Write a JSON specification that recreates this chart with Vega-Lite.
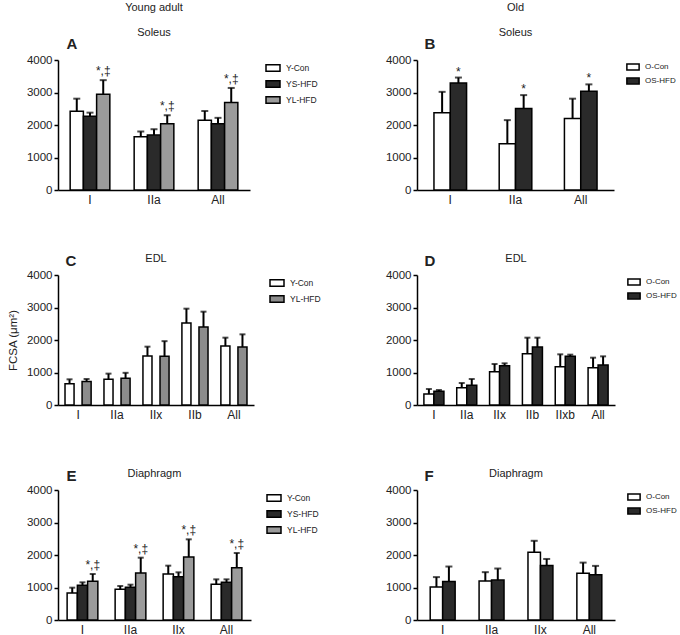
{
  "$schema": "https://vega.github.io/schema/vega-lite/v6.json",
  "padding": {"left": 7, "top": 2, "right": 2, "bottom": 2},
  "background": "white",
  "datasets": {
    "A": [
      {"type": "I", "group": "Y-Con", "mean": 2420, "upper": 2810, "ann": ""},
      {"type": "I", "group": "YS-HFD", "mean": 2270, "upper": 2380, "ann": ""},
      {"type": "I", "group": "YL-HFD", "mean": 2950, "upper": 3380, "ann": "*,‡"},
      {"type": "IIa", "group": "Y-Con", "mean": 1640, "upper": 1800, "ann": ""},
      {"type": "IIa", "group": "YS-HFD", "mean": 1690, "upper": 1870, "ann": ""},
      {"type": "IIa", "group": "YL-HFD", "mean": 2040, "upper": 2300, "ann": "*,‡"},
      {"type": "All", "group": "Y-Con", "mean": 2150, "upper": 2430, "ann": ""},
      {"type": "All", "group": "YS-HFD", "mean": 2040, "upper": 2220, "ann": ""},
      {"type": "All", "group": "YL-HFD", "mean": 2690, "upper": 3140, "ann": "*,‡"}
    ],
    "B": [
      {"type": "I", "group": "O-Con", "mean": 2380, "upper": 3020, "ann": ""},
      {"type": "I", "group": "OS-HFD", "mean": 3290, "upper": 3460, "ann": "*"},
      {"type": "IIa", "group": "O-Con", "mean": 1420, "upper": 2150, "ann": ""},
      {"type": "IIa", "group": "OS-HFD", "mean": 2510, "upper": 2920, "ann": "*"},
      {"type": "All", "group": "O-Con", "mean": 2200, "upper": 2810, "ann": ""},
      {"type": "All", "group": "OS-HFD", "mean": 3040, "upper": 3250, "ann": "*"}
    ],
    "C": [
      {"type": "I", "group": "Y-Con", "mean": 655, "upper": 790, "ann": ""},
      {"type": "I", "group": "YL-HFD", "mean": 722, "upper": 800, "ann": ""},
      {"type": "IIa", "group": "Y-Con", "mean": 790, "upper": 965, "ann": ""},
      {"type": "IIa", "group": "YL-HFD", "mean": 825, "upper": 990, "ann": ""},
      {"type": "IIx", "group": "Y-Con", "mean": 1510, "upper": 1795, "ann": ""},
      {"type": "IIx", "group": "YL-HFD", "mean": 1500, "upper": 1965, "ann": ""},
      {"type": "IIb", "group": "Y-Con", "mean": 2523, "upper": 2964, "ann": ""},
      {"type": "IIb", "group": "YL-HFD", "mean": 2400, "upper": 2872, "ann": ""},
      {"type": "All", "group": "Y-Con", "mean": 1815, "upper": 2072, "ann": ""},
      {"type": "All", "group": "YL-HFD", "mean": 1785, "upper": 2174, "ann": ""}
    ],
    "D": [
      {"type": "I", "group": "O-Con", "mean": 338, "upper": 492, "ann": ""},
      {"type": "I", "group": "OS-HFD", "mean": 420, "upper": 461, "ann": ""},
      {"type": "IIa", "group": "O-Con", "mean": 533, "upper": 677, "ann": ""},
      {"type": "IIa", "group": "OS-HFD", "mean": 605, "upper": 800, "ann": ""},
      {"type": "IIx", "group": "O-Con", "mean": 1026, "upper": 1262, "ann": ""},
      {"type": "IIx", "group": "OS-HFD", "mean": 1210, "upper": 1282, "ann": ""},
      {"type": "IIb", "group": "O-Con", "mean": 1579, "upper": 2072, "ann": ""},
      {"type": "IIb", "group": "OS-HFD", "mean": 1785, "upper": 2072, "ann": ""},
      {"type": "IIxb", "group": "O-Con", "mean": 1180, "upper": 1559, "ann": ""},
      {"type": "IIxb", "group": "OS-HFD", "mean": 1497, "upper": 1549, "ann": ""},
      {"type": "All", "group": "O-Con", "mean": 1149, "upper": 1456, "ann": ""},
      {"type": "All", "group": "OS-HFD", "mean": 1231, "upper": 1497, "ann": ""}
    ],
    "E": [
      {"type": "I", "group": "Y-Con", "mean": 831, "upper": 995, "ann": ""},
      {"type": "I", "group": "YS-HFD", "mean": 1067, "upper": 1159, "ann": ""},
      {"type": "I", "group": "YL-HFD", "mean": 1190, "upper": 1415, "ann": "*,‡"},
      {"type": "IIa", "group": "Y-Con", "mean": 944, "upper": 1046, "ann": ""},
      {"type": "IIa", "group": "YS-HFD", "mean": 1005, "upper": 1087, "ann": ""},
      {"type": "IIa", "group": "YL-HFD", "mean": 1446, "upper": 1918, "ann": "*,‡"},
      {"type": "IIx", "group": "Y-Con", "mean": 1415, "upper": 1672, "ann": ""},
      {"type": "IIx", "group": "YS-HFD", "mean": 1333, "upper": 1467, "ann": ""},
      {"type": "IIx", "group": "YL-HFD", "mean": 1938, "upper": 2482, "ann": "*,‡"},
      {"type": "All", "group": "Y-Con", "mean": 1097, "upper": 1251, "ann": ""},
      {"type": "All", "group": "YS-HFD", "mean": 1159, "upper": 1251, "ann": ""},
      {"type": "All", "group": "YL-HFD", "mean": 1610, "upper": 2062, "ann": "*,‡"}
    ],
    "F": [
      {"type": "I", "group": "O-Con", "mean": 1015, "upper": 1320, "ann": ""},
      {"type": "I", "group": "OS-HFD", "mean": 1188, "upper": 1645, "ann": ""},
      {"type": "IIa", "group": "O-Con", "mean": 1198, "upper": 1472, "ann": ""},
      {"type": "IIa", "group": "OS-HFD", "mean": 1228, "upper": 1584, "ann": ""},
      {"type": "IIx", "group": "O-Con", "mean": 2081, "upper": 2437, "ann": ""},
      {"type": "IIx", "group": "OS-HFD", "mean": 1675, "upper": 1878, "ann": ""},
      {"type": "All", "group": "O-Con", "mean": 1442, "upper": 1766, "ann": ""},
      {"type": "All", "group": "OS-HFD", "mean": 1391, "upper": 1665, "ann": ""}
    ]
  },
  "columns": 2,
  "bounds": "flush",
  "spacing": {"row": 85, "column": 163},
  "resolve": {
    "scale": {"fill": "independent", "x": "independent", "xOffset": "independent", "y": "independent"},
    "legend": {"fill": "independent"}
  },
  "concat": [
    {
      "data": {"name": "A"},
      "width": 192, "height": 130,
      "title": {"text": "Young adult", "subtitle": "Soleus", "offset": -2, "subtitlePadding": 14},
      "encoding": {
        "x": {"field": "type", "type": "nominal", "sort": null,
          "scale": {"paddingInner": 0.38, "paddingOuter": 0.19},
          "axis": {"title": "A", "titleX": 8, "titleY": -142}},
        "xOffset": {"field": "group", "type": "nominal", "scale": {"domain": ["Y-Con", "YS-HFD", "YL-HFD"], "paddingInner": 0, "paddingOuter": 0}}
      },
      "layer": [
        {"mark": {"type": "bar", "stroke": "black", "strokeWidth": 1.5},
          "encoding": {
            "y": {"field": "mean", "type": "quantitative", "scale": {"domain": [0, 4000]}, "axis": {"title": null}},
            "fill": {"field": "group", "type": "nominal",
              "scale": {"domain": ["Y-Con", "YS-HFD", "YL-HFD"], "range": ["#ffffff", "#2a2a2a", "#9b9b9b"]},
              "legend": {"symbolSize": 196, "labelFontSize": 8.5, "offset": 15}}}},
        {"mark": {"type": "rule", "strokeWidth": 2, "color": "black"},
          "encoding": {"y": {"field": "mean", "type": "quantitative", "axis": {"title": null}}, "y2": {"field": "upper"}}},
        {"mark": {"type": "tick", "thickness": 2, "size": 7, "color": "black"},
          "encoding": {"y": {"field": "upper", "type": "quantitative", "axis": {"title": null}}}},
        {"transform": [{"filter": "datum.ann != ''"}],
          "mark": {"type": "text", "fontSize": 12, "baseline": "alphabetic", "dy": -5, "color": "#222"},
          "encoding": {"y": {"field": "upper", "type": "quantitative", "axis": {"title": null}}, "text": {"field": "ann"}}}
      ]
    },
    {
      "data": {"name": "B"},
      "width": 197, "height": 130,
      "title": {"text": "Old", "subtitle": "Soleus", "offset": -2, "subtitlePadding": 14},
      "encoding": {
        "x": {"field": "type", "type": "nominal", "sort": null,
          "scale": {"paddingInner": 0.5, "paddingOuter": 0.26},
          "axis": {"title": "B", "titleX": 7, "titleY": -142}},
        "xOffset": {"field": "group", "type": "nominal", "scale": {"domain": ["O-Con", "OS-HFD"], "paddingInner": 0, "paddingOuter": 0}}
      },
      "layer": [
        {"mark": {"type": "bar", "stroke": "black", "strokeWidth": 1.5},
          "encoding": {
            "y": {"field": "mean", "type": "quantitative", "scale": {"domain": [0, 4000]}, "axis": {"title": null}},
            "fill": {"field": "group", "type": "nominal",
              "scale": {"domain": ["O-Con", "OS-HFD"], "range": ["#ffffff", "#2a2a2a"]},
              "legend": {"symbolSize": 150, "labelFontSize": 8, "offset": 12}}}},
        {"mark": {"type": "rule", "strokeWidth": 2, "color": "black"},
          "encoding": {"y": {"field": "mean", "type": "quantitative", "axis": {"title": null}}, "y2": {"field": "upper"}}},
        {"mark": {"type": "tick", "thickness": 2, "size": 7, "color": "black"},
          "encoding": {"y": {"field": "upper", "type": "quantitative", "axis": {"title": null}}}},
        {"transform": [{"filter": "datum.ann != ''"}],
          "mark": {"type": "text", "fontSize": 12, "baseline": "alphabetic", "dy": -2, "color": "#222"},
          "encoding": {"y": {"field": "upper", "type": "quantitative", "axis": {"title": null}}, "text": {"field": "ann"}}}
      ]
    },
    {
      "data": {"name": "C"},
      "width": 196, "height": 130,
      "title": {"text": "EDL", "offset": -11},
      "encoding": {
        "x": {"field": "type", "type": "nominal", "sort": null,
          "scale": {"paddingInner": 0.33, "paddingOuter": 0.18},
          "axis": {"title": "C", "titleX": 7, "titleY": -140}},
        "xOffset": {"field": "group", "type": "nominal", "scale": {"domain": ["Y-Con", "YL-HFD"], "paddingInner": 0.47, "paddingOuter": 0}}
      },
      "layer": [
        {"mark": {"type": "bar", "stroke": "black", "strokeWidth": 1.5},
          "encoding": {
            "y": {"field": "mean", "type": "quantitative", "scale": {"domain": [0, 4000]},
              "axis": {"title": "FCSA (μm²)", "titleFontSize": 11.5, "titleFontWeight": "normal", "titlePadding": 8}},
            "fill": {"field": "group", "type": "nominal",
              "scale": {"domain": ["Y-Con", "YL-HFD"], "range": ["#ffffff", "#8c8c8c"]},
              "legend": {"symbolSize": 196, "labelFontSize": 8.5, "offset": 15}}}},
        {"mark": {"type": "rule", "strokeWidth": 2, "color": "black"},
          "encoding": {"y": {"field": "mean", "type": "quantitative",
            "axis": {"title": "FCSA (μm²)", "titleFontSize": 11.5, "titleFontWeight": "normal", "titlePadding": 8}}, "y2": {"field": "upper"}}},
        {"mark": {"type": "tick", "thickness": 2, "size": 6, "color": "black"},
          "encoding": {"y": {"field": "upper", "type": "quantitative",
            "axis": {"title": "FCSA (μm²)", "titleFontSize": 11.5, "titleFontWeight": "normal", "titlePadding": 8}}}}
      ]
    },
    {
      "data": {"name": "D"},
      "width": 198, "height": 130,
      "title": {"text": "EDL", "offset": -11},
      "encoding": {
        "x": {"field": "type", "type": "nominal", "sort": null,
          "scale": {"paddingInner": 0.39, "paddingOuter": 0.21},
          "axis": {"title": "D", "titleX": 7, "titleY": -140}},
        "xOffset": {"field": "group", "type": "nominal", "scale": {"domain": ["O-Con", "OS-HFD"], "paddingInner": 0, "paddingOuter": 0}}
      },
      "layer": [
        {"mark": {"type": "bar", "stroke": "black", "strokeWidth": 1.5},
          "encoding": {
            "y": {"field": "mean", "type": "quantitative", "scale": {"domain": [0, 4000]}, "axis": {"title": null}},
            "fill": {"field": "group", "type": "nominal",
              "scale": {"domain": ["O-Con", "OS-HFD"], "range": ["#ffffff", "#2a2a2a"]},
              "legend": {"symbolSize": 150, "labelFontSize": 8, "offset": 12}}}},
        {"mark": {"type": "rule", "strokeWidth": 2, "color": "black"},
          "encoding": {"y": {"field": "mean", "type": "quantitative", "axis": {"title": null}}, "y2": {"field": "upper"}}},
        {"mark": {"type": "tick", "thickness": 2, "size": 6, "color": "black"},
          "encoding": {"y": {"field": "upper", "type": "quantitative", "axis": {"title": null}}}}
      ]
    },
    {
      "data": {"name": "E"},
      "width": 193, "height": 130,
      "title": {"text": "Diaphragm", "offset": -11},
      "encoding": {
        "x": {"field": "type", "type": "nominal", "sort": null,
          "scale": {"paddingInner": 0.36, "paddingOuter": 0.19},
          "axis": {"title": "E", "titleX": 8, "titleY": -140}},
        "xOffset": {"field": "group", "type": "nominal", "scale": {"domain": ["Y-Con", "YS-HFD", "YL-HFD"], "paddingInner": 0, "paddingOuter": 0}}
      },
      "layer": [
        {"mark": {"type": "bar", "stroke": "black", "strokeWidth": 1.5},
          "encoding": {
            "y": {"field": "mean", "type": "quantitative", "scale": {"domain": [0, 4000]}, "axis": {"title": null}},
            "fill": {"field": "group", "type": "nominal",
              "scale": {"domain": ["Y-Con", "YS-HFD", "YL-HFD"], "range": ["#ffffff", "#2a2a2a", "#9b9b9b"]},
              "legend": {"symbolSize": 196, "labelFontSize": 8.5, "offset": 15}}}},
        {"mark": {"type": "rule", "strokeWidth": 2, "color": "black"},
          "encoding": {"y": {"field": "mean", "type": "quantitative", "axis": {"title": null}}, "y2": {"field": "upper"}}},
        {"mark": {"type": "tick", "thickness": 2, "size": 6, "color": "black"},
          "encoding": {"y": {"field": "upper", "type": "quantitative", "axis": {"title": null}}}},
        {"transform": [{"filter": "datum.ann != ''"}],
          "mark": {"type": "text", "fontSize": 12, "baseline": "alphabetic", "dy": -5, "color": "#222"},
          "encoding": {"y": {"field": "upper", "type": "quantitative", "axis": {"title": null}}, "text": {"field": "ann"}}}
      ]
    },
    {
      "data": {"name": "F"},
      "width": 198, "height": 130,
      "title": {"text": "Diaphragm", "offset": -11},
      "encoding": {
        "x": {"field": "type", "type": "nominal", "sort": null,
          "scale": {"paddingInner": 0.49, "paddingOuter": 0.27},
          "axis": {"title": "F", "titleX": 7, "titleY": -140}},
        "xOffset": {"field": "group", "type": "nominal", "scale": {"domain": ["O-Con", "OS-HFD"], "paddingInner": 0, "paddingOuter": 0}}
      },
      "layer": [
        {"mark": {"type": "bar", "stroke": "black", "strokeWidth": 1.5},
          "encoding": {
            "y": {"field": "mean", "type": "quantitative", "scale": {"domain": [0, 4000]}, "axis": {"title": null}},
            "fill": {"field": "group", "type": "nominal",
              "scale": {"domain": ["O-Con", "OS-HFD"], "range": ["#ffffff", "#2a2a2a"]},
              "legend": {"symbolSize": 150, "labelFontSize": 8, "offset": 12}}}},
        {"mark": {"type": "rule", "strokeWidth": 2, "color": "black"},
          "encoding": {"y": {"field": "mean", "type": "quantitative", "axis": {"title": null}}, "y2": {"field": "upper"}}},
        {"mark": {"type": "tick", "thickness": 2, "size": 7, "color": "black"},
          "encoding": {"y": {"field": "upper", "type": "quantitative", "axis": {"title": null}}}}
      ]
    }
  ],
  "config": {
    "font": "Liberation Sans",
    "numberFormat": "d",
    "view": {"stroke": null},
    "axis": {"grid": false, "domainColor": "black", "domainWidth": 1.5, "tickColor": "black", "tickWidth": 1.5,
      "labelColor": "#222", "labelFontSize": 11.5, "labelFont": "Liberation Sans", "titleColor": "#222", "titleFont": "Liberation Sans"},
    "axisY": {"tickCount": 4, "tickSize": 4, "labelPadding": 2},
    "axisX": {"ticks": false, "labelAngle": 0, "labelPadding": 4, "labelFontSize": 12,
      "titleFontSize": 15, "titleFontWeight": "bold", "titleAlign": "left", "titleBaseline": "alphabetic", "titleAngle": 0, "titleColor": "#222"},
    "title": {"fontSize": 11, "fontWeight": "normal", "color": "#222", "subtitleFontSize": 11, "subtitleColor": "#222", "anchor": "middle", "frame": "group", "font": "Liberation Sans", "subtitleFont": "Liberation Sans"},
    "legend": {"title": null, "symbolType": "M-1,-0.47H1V0.47H-1Z", "symbolStrokeColor": "black", "symbolStrokeWidth": 1.5,
      "labelColor": "#222", "labelFont": "Liberation Sans", "rowPadding": 1, "padding": 0, "labelOffset": 5, "orient": "right"}
  }
}
